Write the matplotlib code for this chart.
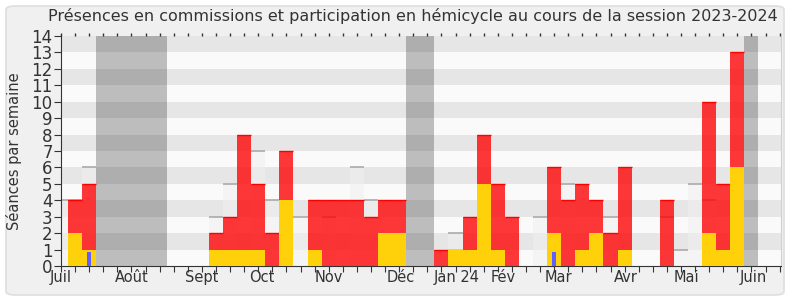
import matplotlib
matplotlib.use("Agg")
import matplotlib.pyplot as plt
from matplotlib.patches import FancyBboxPatch
import matplotlib.transforms as mtransforms
import numpy as np

plt.rcParams['font.family'] = ['DejaVu Sans']

# ---- data (one entry per week, week 0 = early July 2023) ----
weeks = list(range(52))
commission = [0, 4, 5, 0, 0, 0, 0, 0, 0, 0, 0, 2, 3, 8, 5, 2, 7, 0, 4, 4,
              4, 4, 3, 4, 4, 0, 0, 1, 1, 3, 8, 5, 3, 0, 0, 6, 4, 5, 4, 2,
              6, 0, 0, 4, 0, 0, 10, 5, 13, 0, 0, 0]
hemicycle = [0, 2, 1, 0, 0, 0, 0, 0, 0, 0, 0, 1, 1, 1, 1, 0, 4, 0, 1, 0,
             0, 0, 0, 2, 2, 0, 0, 0, 1, 1, 5, 1, 0, 0, 0, 2, 0, 1, 2, 0,
             1, 0, 0, 0, 0, 0, 2, 1, 6, 0, 0, 0]
questions = [0, 0, 0.85, 0, 0, 0, 0, 0, 0, 0, 0, 0, 0, 0, 0, 0, 0, 0, 0, 0,
             0, 0, 0, 0, 0, 0, 0, 0, 0, 0, 0, 0, 0, 0, 0, 0.85, 0, 0, 0, 0,
             0, 0, 0, 0, 0, 0, 0, 0, 0, 0, 0, 0]
mediane = [4, 4, 6, 0, 0, 0, 0, 0, 0, 0, 0, 3, 5, 0, 7, 4, 0, 3, 0, 3,
           0, 6, 4, 0, 0, 0, 0, 0, 2, 0, 0, 0, 0, 0, 3, 0, 5, 0, 0, 3,
           0, 0, 0, 3, 1, 5, 4, 0, 0, 0, 0, 0]
vacances = [(3, 7), (25, 26), (49, 49)]
month_labels = ["Juil", "Août", "Sept", "Oct", "Nov", "Déc", "Jan 24",
                "Fév", "Mar", "Avr", "Mai", "Juin"]
month_pos = [0, 5, 10, 14.25, 19, 24.1, 28.05, 31.4, 35.3, 40.1, 44.4, 49.1]
title = "Présences en commissions et participation en hémicycle au cours de la session 2023-2024"
ylabel = "Séances par semaine"

# ---- figure ----
fig = plt.figure(figsize=(7.9, 3.0), dpi=100)
fig.patch.set_facecolor("white")
frame = FancyBboxPatch((6 / 790, 5 / 300), 778 / 790, 289 / 300,
                       boxstyle="round,pad=0,rounding_size=0.012",
                       transform=fig.transFigure, facecolor="#f0f0f0",
                       edgecolor="#dedede", linewidth=1.2, zorder=-10)
fig.patches.append(frame)

ax = fig.add_axes([61 / 790, 34 / 300, 720 / 790, 230 / 300])
ax.set_zorder(1)
ax.set_xlim(0, 51.1)
ax.set_ylim(0, 14)
ax.set_facecolor("#fafafa")

for y0 in range(14):
    ax.axhspan(y0, y0 + 1, color="#e6e6e6" if y0 % 2 == 1 else "#fafafa",
               lw=0, zorder=0)

for a, b in vacances:
    ax.axvspan(a - 0.5, b + 0.5, color="#0a0a0a", alpha=0.25, lw=0, zorder=1)

x = np.array(weeks)
med = np.array(mediane, dtype=float)
ax.bar(x, med, width=1.0, color="#f0f0f0", alpha=0.5, lw=0, zorder=2)
mm = med > 0
ax.hlines(med[mm], x[mm] - 0.5, x[mm] + 0.5, color="#aaaaaa", lw=1.2, zorder=2.5)

com = np.array(commission, dtype=float)
ax.bar(x, com, width=1.0, color="#ff0000", alpha=0.78, lw=0, zorder=3)
cm = com > 0
ax.hlines(com[cm], x[cm] - 0.5, x[cm] + 0.5, color="#ff0000", lw=1.0, zorder=3.5)

ax.bar(x, hemicycle, width=1.0, color="#ffd10a", lw=0, zorder=4)
ax.bar(x, questions, width=0.27, color="#6060ff", lw=0, zorder=5)

# axes styling
ax.spines["top"].set_visible(False)
ax.spines["right"].set_color("#d0d0d0")
ax.spines["left"].set_color("#333333")
ax.spines["bottom"].set_color("#333333")

ax.set_yticks(range(15))
ax.tick_params(axis="y", length=5, color="#333333", labelsize=12,
               labelcolor="#333333", pad=1)
ax.set_xticks(range(52))
ax.set_xticklabels([])
ax.tick_params(axis="x", which="major", length=4.5, color="#333333",
               direction="out")

top = ax.secondary_xaxis("top")
top.set_xticks(range(52))
top.set_xticklabels([])
top.tick_params(length=2, width=1, color="#333333", direction="out")
top.spines["top"].set_visible(False)

trans = mtransforms.blended_transform_factory(ax.transData, ax.transAxes)
for pos, lab in zip(month_pos, month_labels):
    ax.text(pos, -0.052, lab, transform=trans, ha="center", va="center",
            fontsize=10.5, color="#333333", clip_on=False)

ax.set_ylabel(ylabel, fontsize=10.5, color="#333333", labelpad=7)
fig.text(0.522, 0.945, title, ha="center", va="center", fontsize=11.5,
         color="#333333")

fig.savefig("out.png", dpi=100, facecolor=fig.get_facecolor())
